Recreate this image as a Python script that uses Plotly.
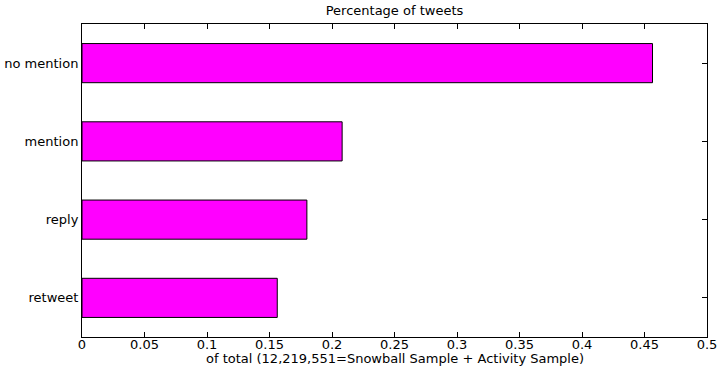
import plotly.graph_objects as go

# Tweet categories (bottom to top) and their share of all tweets
categories = ["retweet", "reply", "mention", "no mention"]
shares = [0.1562, 0.1799, 0.2081, 0.4564]

x_ticks = [0, 0.05, 0.1, 0.15, 0.2, 0.25, 0.3, 0.35, 0.4, 0.45, 0.5]
x_tick_labels = ["0", "0.05", "0.1", "0.15", "0.2", "0.25", "0.3", "0.35", "0.4", "0.45", "0.5"]

FONT = "DejaVu Sans, Liberation Sans, Arial, sans-serif"
FS = 13

fig = go.Figure(
    go.Bar(
        x=shares,
        y=categories,
        orientation="h",
        width=0.5,
        marker=dict(color="#FF00FF", line=dict(color="black", width=1)),
        showlegend=False,
    )
)

fig.update_layout(
    width=717,
    height=369,
    margin=dict(l=82, r=10, t=24, b=32),
    paper_bgcolor="white",
    plot_bgcolor="white",
    font=dict(family=FONT, size=FS, color="black"),
    title=dict(
        text="Percentage of tweets",
        x=(82 + 707) / 2 / 717,
        xanchor="center",
        y=1 - 10 / 369,
        yanchor="middle",
        font=dict(family=FONT, size=FS, color="black"),
    ),
    annotations=[
        dict(
            text="of total (12,219,551=Snowball Sample + Activity Sample)",
            xref="paper",
            yref="paper",
            x=0.5,
            xanchor="center",
            y=-21 / 313,
            yanchor="middle",
            showarrow=False,
            font=dict(family=FONT, size=FS, color="black"),
        )
    ],
)

fig.update_xaxes(
    range=[0, 0.5],
    tickvals=x_ticks,
    ticktext=x_tick_labels,
    ticks="inside",
    ticklen=5,
    tickcolor="black",
    showline=True,
    linecolor="black",
    linewidth=1,
    mirror="ticks",
    showgrid=False,
    zeroline=False,
    automargin=False,
    ticklabeloverflow="allow",
    ticklabelstandoff=-5,
    tickfont=dict(family=FONT, size=FS, color="black"),
)

fig.update_yaxes(
    range=[-0.5, 3.5],
    ticks="inside",
    ticklen=5,
    tickcolor="black",
    showline=True,
    linecolor="black",
    linewidth=1,
    mirror="ticks",
    showgrid=False,
    zeroline=False,
    automargin=False,
    layer="below traces",
    tickfont=dict(family=FONT, size=FS, color="black"),
)

fig.write_html("out.html")
